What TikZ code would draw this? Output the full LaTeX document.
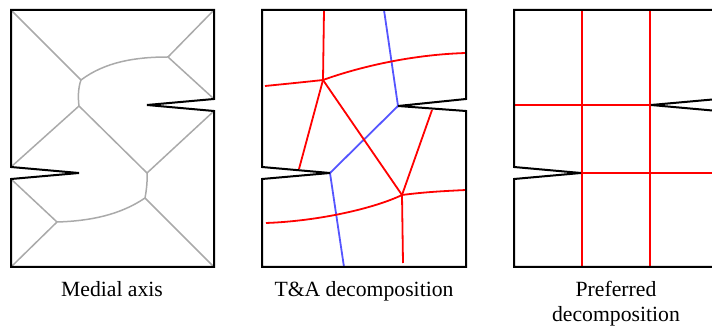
\documentclass[tikz,border=0pt]{standalone}
\usepackage{fontspec}
\setmainfont{Liberation Serif}
\definecolor{axisgray}{RGB}{170,170,170}
\definecolor{cutred}{RGB}{255,0,0}
\definecolor{cutblue}{RGB}{85,85,255}
\tikzset{
  outline/.style={draw=black, line width=2pt, line join=miter},
  medial/.style={draw=axisgray, line width=1.5pt},
  redcut/.style={draw=cutred, line width=1.8pt},
  bluecut/.style={draw=cutblue, line width=1.8pt},
  caption/.style={anchor=base, inner sep=0pt, font=\fontsize{21.7}{25}\selectfont}
}
\begin{document}
\begin{tikzpicture}[x=1pt, y=-1pt]
\useasboundingbox (0,0) rectangle (712,328);
\clip (0,0) rectangle (712,328);

% ---------- Panel 1: medial axis ----------
\coordinate (m1) at (81,80);
\coordinate (m2) at (168,57);
\coordinate (m3) at (79,106);
\coordinate (m4) at (147,173);
\coordinate (m5) at (145,198);
\coordinate (m6) at (57,222);
\draw[medial] (11,10) -- (m1);
\draw[medial] (m1) .. controls (105,62) and (135,57) .. (m2);
\draw[medial] (m2) -- (214,10);
\draw[medial] (m2) -- (214,99);
\draw[medial] (m1) .. controls (78,88) and (78,98) .. (m3);
\draw[medial] (m3) -- (11,167);
\draw[medial] (m3) -- (m4);
\draw[medial] (m4) -- (214,111);
\draw[medial] (m4) .. controls (147.5,181) and (146.5,190) .. (m5);
\draw[medial] (m5) -- (214,267);
\draw[medial] (m5) .. controls (120,215) and (90,221) .. (m6);
\draw[medial] (m6) -- (11,179);
\draw[medial] (m6) -- (11,267);
\draw[outline] (11,10) -- (214,10) -- (214,99) -- (147,105) -- (214,111) -- (214,267)
  -- (11,267) -- (11,179) -- (79,173) -- (11,167) -- cycle;
\node[caption] (cap1) at (112,297) {Medial axis};

% ---------- Panel 2: T&A decomposition ----------
\coordinate (tA) at (323,80);
\coordinate (tB) at (402,195);
\coordinate (nR) at (398,106);
\coordinate (nL) at (330,173);
\draw[bluecut] (384,10) -- (nR) -- (nL) -- (344,267);
\draw[redcut] (324,10) -- (tA);
\draw[redcut] (265,86) .. controls (285,84) and (305,82) .. (tA)
  .. controls (345,72) and (400,55) .. (466,53);
\draw[redcut] (tA) -- (299,169);
\draw[redcut] (tA) -- (tB);
\draw[redcut] (tB) -- (432,110);
\draw[redcut] (tB) -- (403,263);
\draw[redcut] (266,223) .. controls (320,221) and (375,208) .. (tB)
  .. controls (425,192) and (445,191) .. (466,190);
\draw[outline] (262,10) -- (466,10) -- (466,99) -- (nR) -- (466,111) -- (466,267)
  -- (262,267) -- (262,179) -- (nL) -- (262,167) -- cycle;
\node[caption] (cap2) at (364,297) {T\&A decomposition};

% ---------- Panel 3: preferred decomposition ----------
\coordinate (pR) at (651,105);
\coordinate (pL) at (581,173);
\draw[redcut] (582,10) -- (582,267);
\draw[redcut] (650,10) -- (650,267);
\draw[redcut] (514,105) -- (pR);
\draw[redcut] (pL) -- (718,173);
\draw[outline] (514,10) -- (718,10) -- (718,99) -- (pR) -- (718,111) -- (718,267)
  -- (514,267) -- (514,179) -- (pL) -- (514,167) -- cycle;
\node[caption] (cap3a) at (616,297) {Preferred};
\node[caption] (cap3b) at (616,322) {decomposition};
\end{tikzpicture}
\end{document}
